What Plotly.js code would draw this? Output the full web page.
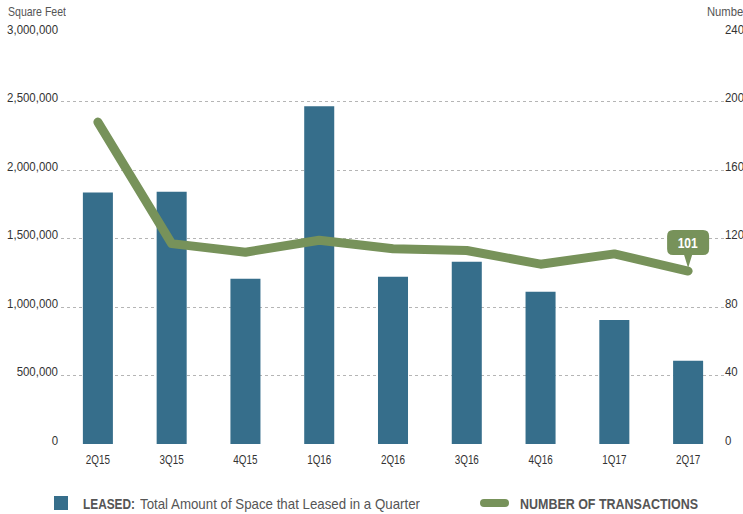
<!DOCTYPE html>
<html>
<head>
<meta charset="utf-8">
<script src="https://cdn.plot.ly/plotly-3.0.1.min.js"></script>
<style>
  html, body { margin: 0; padding: 0; background: #fff; overflow: hidden; }
  #chart { width: 743px; height: 514px; }
  .scatterlayer .js-line { stroke-linecap: round; stroke-linejoin: round; }
</style>
</head>
<body>
<div id="chart"></div>
<script>
// Quarterly leasing activity
const quarters = ['2Q15', '3Q15', '4Q15', '1Q16', '2Q16', '3Q16', '4Q16', '1Q17', '2Q17'];
const leasedSqFt = [1835000, 1842000, 1206000, 2466000, 1221000, 1330000, 1111000, 906000, 607000];
const transactions = [188, 117, 112, 119, 114, 113, 105, 111, 101];

const leftTicks = [0, 500000, 1000000, 1500000, 2000000, 2500000, 3000000];
const rightTicks = [0, 40, 80, 120, 160, 200, 240];

const BLUE = '#366e8b';
const GREEN = '#77925a';
const FONT = '"Liberation Sans", Arial, sans-serif';

const W = 743, H = 514;
const M = { l: 61, r: 18, t: 33, b: 70 };
const PW = W - M.l - M.r, PH = H - M.t - M.b;
// page pixel -> paper fraction
const X = px => (px - M.l) / PW;
const Y = py => (M.t + PH - py) / PH;

const bars = {
  type: 'bar',
  x: quarters,
  y: leasedSqFt,
  marker: { color: BLUE },
  name: 'LEASED',
  hoverinfo: 'x+y'
};

const line = {
  type: 'scatter',
  mode: 'lines',
  x: quarters,
  y: transactions,
  yaxis: 'y2',
  line: { color: GREEN, width: 9 },
  name: 'NUMBER OF TRANSACTIONS',
  hoverinfo: 'x+y'
};

const lastQ = quarters[quarters.length - 1];
const lastN = transactions[transactions.length - 1];

// rounded call-out bubble with a pointer, sized in pixels around the last point
const bubblePath = 'M -15,16 L -4,16 L 0,3 L 4,16 L 15,16 Q 21,16 21,22 L 21,35 Q 21,41 15,41 ' +
                   'L -15,41 Q -21,41 -21,35 L -21,22 Q -21,16 -15,16 Z';

// rounded bar used as the line key
function pill(x0, x1, yc, h) {
  const r = h / 2;
  return `M ${X(x0 + r)},${Y(yc - r)} L ${X(x1 - r)},${Y(yc - r)} ` +
         `Q ${X(x1)},${Y(yc - r)} ${X(x1)},${Y(yc)} Q ${X(x1)},${Y(yc + r)} ${X(x1 - r)},${Y(yc + r)} ` +
         `L ${X(x0 + r)},${Y(yc + r)} Q ${X(x0)},${Y(yc + r)} ${X(x0)},${Y(yc)} ` +
         `Q ${X(x0)},${Y(yc - r)} ${X(x0 + r)},${Y(yc - r)} Z`;
}

// left-aligned text placed by page pixel, in a box of the given width
function label(px, py, text, size, color, width) {
  return {
    x: X(px), y: Y(py), xref: 'paper', yref: 'paper',
    xanchor: 'left', yanchor: 'middle', align: 'left', showarrow: false,
    width: width, borderpad: 0,
    text: text,
    font: { family: FONT, size: size, color: color }
  };
}

const layout = {
  width: W, height: H,
  margin: M,
  paper_bgcolor: '#fff',
  plot_bgcolor: '#fff',
  showlegend: false,
  bargap: 0.593,
  font: { family: FONT, size: 13, color: '#333' },
  xaxis: {
    type: 'category',
    showgrid: false, zeroline: false, showline: false,
    ticks: '',
    ticklabelstandoff: 6,
    tickfont: { family: FONT, size: 13, color: '#333' },
    fixedrange: true
  },
  yaxis: {
    range: [0, 3000000],
    tickvals: leftTicks,
    tickformat: ',d',
    showgrid: true,
    gridcolor: '#b5b5b5',
    griddash: 'dot',
    gridwidth: 1,
    zeroline: false,
    showline: false,
    ticks: '',
    ticklabelshift: -4,
    ticklabelstandoff: 2,
    tickfont: { family: FONT, size: 13, color: '#333' },
    fixedrange: true
  },
  yaxis2: {
    overlaying: 'y',
    side: 'right',
    range: [0, 240],
    tickvals: rightTicks,
    showgrid: false,
    zeroline: false,
    showline: false,
    ticks: '',
    ticklabelshift: -4,
    ticklabelstandoff: -1,
    tickfont: { family: FONT, size: 13, color: '#333' },
    fixedrange: true
  },
  shapes: [
    {
      type: 'path', xref: 'x', yref: 'y2',
      xsizemode: 'pixel', ysizemode: 'pixel',
      xanchor: lastQ, yanchor: lastN,
      path: bubblePath,
      fillcolor: GREEN, line: { width: 0 }
    },
    // legend keys
    {
      type: 'rect', xref: 'paper', yref: 'paper',
      x0: X(54), x1: X(68), y0: Y(510), y1: Y(496),
      fillcolor: BLUE, line: { width: 0 }
    },
    {
      type: 'path', xref: 'paper', yref: 'paper',
      path: pill(480, 509, 503, 8),
      fillcolor: GREEN, line: { width: 0 }
    }
  ],
  annotations: [
    {
      x: lastQ, y: lastN, xref: 'x', yref: 'y2',
      yshift: 28.5, showarrow: false,
      text: '<b>' + lastN + '</b>',
      font: { family: FONT, size: 14, color: '#fff' },
      xanchor: 'center', yanchor: 'middle', align: 'center'
    },
    label(7, 12, 'Square Feet', 13, '#555', 58),
    label(706, 12, 'Number', 13, '#555', 40),
    label(81.5, 503.5, '<b>LEASED:</b>', 15, '#555', 52),
    label(138.5, 503.5, 'Total Amount of Space that Leased in a Quarter', 15, '#555', 280),
    label(519, 503.5, '<b>NUMBER OF TRANSACTIONS</b>', 15, '#555', 178)
  ]
};

// narrow the lettering to a condensed face: each text keeps its anchor
function fitWidth(el, width) {
  el.setAttribute('textLength', width);
  el.setAttribute('lengthAdjust', 'spacingAndGlyphs');
}
function condense(el, factor) {
  fitWidth(el, el.getComputedTextLength() * factor);
}

Plotly.newPlot('chart', [bars, line], layout, { displayModeBar: false, staticPlot: true })
  .then(gd => {
    gd.querySelectorAll('.xtick text').forEach(t => condense(t, 0.76));
    gd.querySelectorAll('.ytick text, .y2tick text').forEach(t => condense(t, 0.88));
    const anns = gd._fullLayout.annotations;
    gd.querySelectorAll('g.annotation').forEach(g => {
      const i = +g.getAttribute('data-index');
      const t = g.querySelector('text.annotation-text');
      if (!t) return;
      if (anns[i] && anns[i].width) fitWidth(t, anns[i].width);
      else condense(t, 0.86);
    });
  });
</script>
</body>
</html>
